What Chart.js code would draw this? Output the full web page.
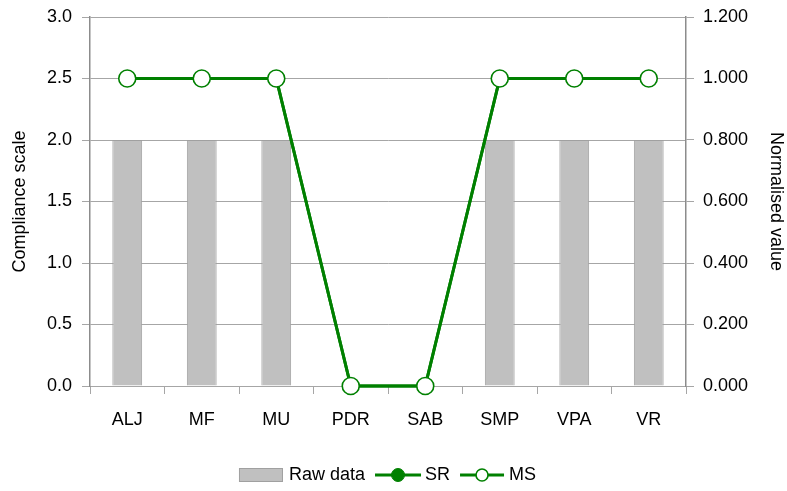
<!DOCTYPE html>
<html>
<head>
<meta charset="utf-8">
<script src="https://cdn.jsdelivr.net/npm/chart.js@4/dist/chart.umd.min.js"></script>
<style>
  html,body{margin:0;padding:0;background:#fff;}
  #wrap{width:787px;height:491px;position:relative;}
</style>
</head>
<body>
<div id="wrap"><canvas id="c" width="787" height="491"></canvas></div>
<script>
const categories = ['ALJ','MF','MU','PDR','SAB','SMP','VPA','VR'];
const rawData = [2, 2, 2, 0, 0, 2, 2, 2];
const srValues = [1, 1, 1, 0, 0, 1, 1, 1];
const msValues = [1, 1, 1, 0, 0, 1, 1, 1];
const leftTicks = [0, 0.5, 1, 1.5, 2, 2.5, 3];
const rightTicks = [0, 0.2, 0.4, 0.6, 0.8, 1.0, 1.2];

const FONT = '"Liberation Sans", Arial, sans-serif';
const GREEN = '#008000';
const GRID = '#a6a6a6';
const AXIS = '#8c8c8c';

const legendPlugin = {
  id: 'customLegend',
  afterDraw(chart) {
    const ctx = chart.ctx;
    ctx.save();
    ctx.font = '18px ' + FONT;
    ctx.textBaseline = 'middle';
    ctx.fillStyle = '#000';
    const ds = chart.data.datasets;
    const cy = 475;
    const items = [
      {type: 'box', w: 44, gap: 6, label: ds[2].label},
      {type: 'line', w: 46, gap: 4, label: ds[1].label, ds: ds[1]},
      {type: 'line', w: 44, gap: 5, label: ds[0].label, ds: ds[0]}
    ];
    let total = 0;
    items.forEach((it, i) => {
      it.tw = ctx.measureText(it.label).width;
      total += it.w + it.gap + it.tw + (i < items.length - 1 ? 10 : 0);
    });
    let x = chart.width / 2 - 6 - total / 2;
    items.forEach(it => {
      if (it.type === 'box') {
        ctx.fillStyle = ds[2].backgroundColor;
        ctx.strokeStyle = ds[2].borderColor;
        ctx.lineWidth = 1;
        ctx.fillRect(x, cy - 7, it.w, 14);
        ctx.strokeRect(x + 0.5, cy - 6.5, it.w - 1, 13);
      } else {
        ctx.strokeStyle = it.ds.borderColor;
        ctx.lineWidth = it.ds.borderWidth;
        ctx.beginPath();
        ctx.moveTo(x, cy);
        ctx.lineTo(x + it.w, cy);
        ctx.stroke();
        ctx.beginPath();
        ctx.arc(x + it.w / 2, cy, it.ds.label === 'SR' ? 6.5 : 6, 0, Math.PI * 2);
        ctx.fillStyle = it.ds.pointBackgroundColor;
        ctx.fill();
        ctx.lineWidth = it.ds.pointBorderWidth;
        ctx.strokeStyle = it.ds.pointBorderColor;
        ctx.stroke();
      }
      x += it.w + it.gap;
      ctx.fillStyle = '#000';
      ctx.textAlign = 'left';
      ctx.fillText(it.label, x, cy);
      x += it.tw + 10;
    });
    ctx.restore();
  }
};

new Chart(document.getElementById('c'), {
  data: {
    labels: categories,
    datasets: [
      {
        type: 'line', label: 'MS', data: msValues, yAxisID: 'y1', order: 0,
        borderColor: GREEN, borderWidth: 3, pointRadius: 8.5, pointHoverRadius: 8.5,
        pointBackgroundColor: '#ffffff', pointBorderColor: GREEN, pointBorderWidth: 1.6,
        tension: 0, clip: false
      },
      {
        type: 'line', label: 'SR', data: srValues, yAxisID: 'y1', order: 1,
        borderColor: GREEN, borderWidth: 3, pointRadius: 7, pointHoverRadius: 7,
        pointBackgroundColor: GREEN, pointBorderColor: GREEN, pointBorderWidth: 1,
        tension: 0, clip: false
      },
      {
        type: 'bar', label: 'Raw data', data: rawData, yAxisID: 'y', order: 2,
        backgroundColor: '#c0c0c0', borderColor: '#a0a0a0', borderWidth: 1,
        barPercentage: 0.4, categoryPercentage: 1.0
      }
    ]
  },
  options: {
    responsive: false,
    animation: false,
    events: [],
    layout: {padding: {top: 17, left: 0, right: 0, bottom: 0}},
    plugins: {legend: {display: false}, tooltip: {enabled: false}},
    scales: {
      x: {
        type: 'category',
        offset: true,
        grid: {offset: true, drawOnChartArea: false, drawTicks: true, tickLength: 8, color: GRID},
        border: {display: true, color: GRID},
        ticks: {color: '#000', font: {size: 18, family: FONT}, padding: 15, maxRotation: 0},
        afterFit(s) { s.height = 105; s.paddingLeft = 0; s.paddingRight = 0; }
      },
      y: {
        position: 'left', min: 0, max: 3,
        afterBuildTicks(s) { s.ticks = leftTicks.map(v => ({value: v})); },
        grid: {color: GRID, tickLength: 8},
        border: {color: AXIS, width: 1.5},
        ticks: {color: '#000', font: {size: 18, family: FONT}, padding: 10,
          callback: v => Number(v).toFixed(1)},
        title: {display: true, text: 'Compliance scale', color: '#000',
          font: {size: 18, family: FONT}, padding: {top: 9, bottom: 0}},
        afterFit(s) { s.width = 90; s.paddingTop = 0; s.paddingBottom = 0; }
      },
      y1: {
        position: 'right', min: 0, max: 1.2,
        afterBuildTicks(s) { s.ticks = rightTicks.map(v => ({value: v})); },
        grid: {drawOnChartArea: false, color: GRID, tickLength: 8},
        border: {color: AXIS, width: 1.5},
        ticks: {color: '#000', font: {size: 18, family: FONT}, padding: 9,
          callback: v => Number(v).toFixed(3)},
        title: {display: true, text: 'Normalised value', color: '#000',
          font: {size: 18, family: FONT}, padding: {top: 0, bottom: 1}},
        afterFit(s) { s.width = 101; s.paddingTop = 0; s.paddingBottom = 0; }
      }
    }
  },
  plugins: [legendPlugin]
});
</script>
</body>
</html>
